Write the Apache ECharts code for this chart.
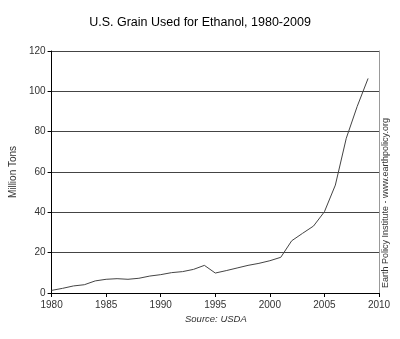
<!DOCTYPE html>
<html>
<head>
<meta charset="utf-8">
<script src="https://cdn.jsdelivr.net/npm/echarts@6/dist/echarts.min.js"></script>
<style>
  html, body { margin: 0; padding: 0; background: #fff; }
  #main { width: 400px; height: 339px; }
</style>
</head>
<body>
<div id="main"></div>
<script>
// data
var years = [1980, 1981, 1982, 1983, 1984, 1985, 1986, 1987, 1988, 1989,
  1990, 1991, 1992, 1993, 1994, 1995, 1996, 1997, 1998, 1999,
  2000, 2001, 2002, 2003, 2004, 2005, 2006, 2007, 2008, 2009];
var grainTons = [1.3, 2.3, 3.5, 4.1, 6.0, 6.8, 7.1, 6.8, 7.3, 8.4,
  9.1, 10.1, 10.6, 11.7, 13.7, 9.9, 11.1, 12.4, 13.7, 14.7,
  16.0, 17.7, 25.9, 29.6, 33.2, 40.3, 53.5, 76.7, 92.5, 106.4];
var xTicks = [1980, 1985, 1990, 1995, 2000, 2005, 2010];
var yTicks = [0, 20, 40, 60, 80, 100, 120];

var chart = echarts.init(document.getElementById('main'));
var font = 'Liberation Sans, Arial, sans-serif';

var option = {
  animation: false,
  backgroundColor: '#fff',
  textStyle: { fontFamily: font },
  title: {
    text: 'U.S. Grain Used for Ethanol, 1980-2009',
    left: 'center',
    top: 11,
    textStyle: { fontSize: 12.5, fontWeight: 'normal', color: '#000', fontFamily: font }
  },
  grid: {
    left: 49,
    right: 21,
    top: 51,
    bottom: 46
  },
  xAxis: {
    type: 'value',
    min: xTicks[0],
    max: xTicks[xTicks.length - 1],
    interval: 5,
    axisLine: { show: true, lineStyle: { color: '#000', width: 1 } },
    axisTick: { show: true, length: 4, lineStyle: { color: '#000' } },
    splitLine: { show: false },
    axisLabel: { color: '#333', fontSize: 10, margin: 7, fontFamily: font,
      formatter: function (v) { return String(v); } }
  },
  yAxis: [{
    type: 'value',
    min: yTicks[0],
    max: yTicks[yTicks.length - 1],
    interval: 20,
    name: 'Million Tons',
    nameLocation: 'middle',
    nameRotate: 90,
    nameGap: 25,
    nameTextStyle: { fontSize: 10, color: '#333', fontFamily: font },
    axisLine: { show: true, lineStyle: { color: '#000', width: 1 } },
    axisTick: { show: true, length: 4, lineStyle: { color: '#000' } },
    splitLine: { show: true, lineStyle: { color: '#444', width: 1 } },
    axisLabel: { color: '#333', fontSize: 10, margin: 6, fontFamily: font }
  }, {
    type: 'value',
    position: 'right',
    min: 0,
    max: 120,
    interval: 20,
    axisLine: { show: true, lineStyle: { color: '#999', width: 1 } },
    axisTick: { show: false },
    axisLabel: { show: false },
    splitLine: { show: false }
  }],
  graphic: [{
    type: 'text',
    x: 381,
    y: 288,
    rotation: Math.PI / 2,
    style: {
      text: 'Earth Policy Institute - www.earthpolicy.org',
      fontSize: 9,
      fill: '#333',
      fontFamily: font,
      align: 'left',
      verticalAlign: 'top'
    }
  }, {
    type: 'text',
    left: 185,
    top: 314,
    style: {
      text: 'Source: USDA',
      fontSize: 9.5,
      fontStyle: 'italic',
      fill: '#333',
      fontFamily: font
    }
  }],
  series: [{
    type: 'line',
    data: years.map(function (y, i) { return [y, grainTons[i]]; }),
    showSymbol: false,
    lineStyle: { color: '#444', width: 1 },
    silent: true
  }]
};
chart.setOption(option);
</script>
</body>
</html>
